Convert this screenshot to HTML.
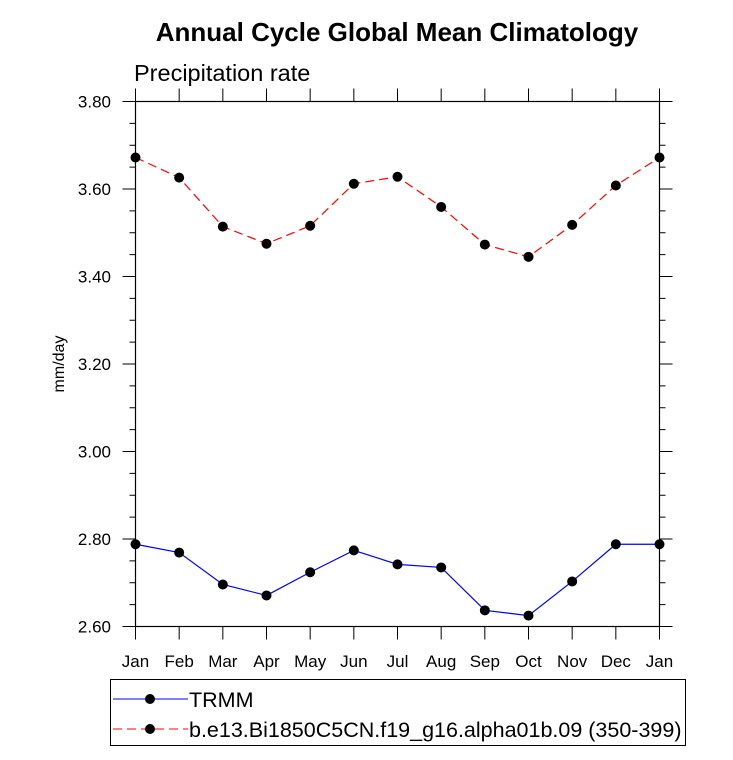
<!DOCTYPE html>
<html><head><meta charset="utf-8"><style>
body{margin:0;background:#fff}
svg text{font-family:"Liberation Sans",sans-serif}
</style></head><body>
<svg id="chart" width="733" height="755">
<text x="397" y="41" text-anchor="middle" font-size="26" font-weight="bold">Annual Cycle Global Mean Climatology</text>
<text x="134" y="81" font-size="23.5">Precipitation rate</text>
<text transform="translate(64,364) rotate(-90)" text-anchor="middle" font-size="16">mm/day</text>
<g id="axes"></g><g id="series"></g>
<rect x="110.5" y="679.5" width="575" height="66" fill="none" stroke="#000"/>
<line x1="113" y1="699" x2="188" y2="699" stroke="#00f"/>
<circle cx="150" cy="699" r="5"/>
<text x="189" y="707" font-size="21.5">TRMM</text>
<line x1="113" y1="729" x2="188" y2="729" stroke="#f00" stroke-dasharray="9,5"/>
<circle cx="150" cy="729" r="5"/>
<text x="189" y="737" font-size="21.5">b.e13.Bi1850C5CN.f19_g16.alpha01b.09 (350-399)</text>
</svg>
<script>
const months=["Jan","Feb","Mar","Apr","May","Jun","Jul","Aug","Sep","Oct","Nov","Dec","Jan"];
const trmm=[2.788,2.769,2.696,2.671,2.724,2.774,2.742,2.735,2.637,2.625,2.703,2.788,2.788];
const model=[3.672,3.626,3.514,3.475,3.516,3.612,3.628,3.559,3.473,3.445,3.518,3.608,3.672];
const yTicks=[2.6,2.8,3.0,3.2,3.4,3.6,3.8];
const yTickLabels=["2.60","2.80","3.00","3.20","3.40","3.60","3.80"];
const L=135.5,R=659.5,T=101.5,B=626.5,yMin=2.6,yMax=3.8;
const xs=i=>L+(R-L)*i/(months.length-1);
const ys=v=>B-(v-yMin)/(yMax-yMin)*(B-T);
const NS="http://www.w3.org/2000/svg";
function mk(t,a,p){const e=document.createElementNS(NS,t);for(const k in a)e.setAttribute(k,a[k]);p.appendChild(e);return e;}
const ax=document.getElementById('axes'),sr=document.getElementById('series');
const fr=mk('rect',{x:L,y:T,width:R-L,height:B-T,fill:'none',stroke:'#000','stroke-width':1.2},ax);


months.forEach((m,i)=>{const x=xs(i);
 mk('line',{x1:x,y1:B,x2:x,y2:B+13,stroke:'#000'},ax);
 mk('line',{x1:x,y1:T,x2:x,y2:T-13,stroke:'#000'},ax);
 const t=mk('text',{x:x,y:667,'text-anchor':'middle','font-size':17},ax);t.textContent=m;
 
 
});
for(let v=yMin;v<=yMax+1e-9;v+=0.05){const y=ys(v);const major=Math.abs(Math.round(v*5)-v*5)<1e-6;const len=major?13:6;
 mk('line',{x1:L-len,y1:y,x2:L,y2:y,stroke:'#000'},ax);
 mk('line',{x1:R,y1:y,x2:R+len,y2:y,stroke:'#000'},ax);}
yTicks.forEach((v,i)=>{const t=mk('text',{x:111,y:ys(v)+6,'text-anchor':'end','font-size':17},ax);t.textContent=yTickLabels[i];
 
 });
function series(d,col,dash,name){
 const p=mk('polyline',{points:d.map((v,i)=>xs(i)+','+ys(v)).join(' '),fill:'none',stroke:col,'stroke-width':1.2,'stroke-dasharray':dash},sr);
 
 
 d.forEach((v,i)=>{const c=mk('circle',{cx:xs(i),cy:ys(v),r:5},sr);
  
  });
}
series(model,'#f00','9,5','model');
series(trmm,'#00f','none','trmm');
</script>
</body></html>
